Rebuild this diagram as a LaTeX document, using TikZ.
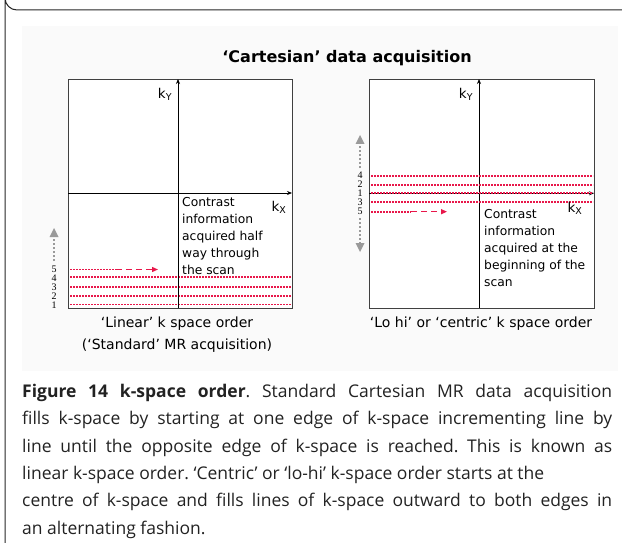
\documentclass[tikz,border=0pt]{standalone}
\usepackage{fontspec}
\setmainfont{DejaVu Sans}
\newfontfamily\capfont{Open Sans}
\newfontfamily\numfont{Liberation Serif}
\usetikzlibrary{arrows.meta}
\definecolor{kred}{HTML}{E8174A}
\definecolor{panel}{HTML}{FAFAFA}
\definecolor{garrow}{HTML}{9A9A9A}
\definecolor{captxt}{HTML}{222222}
\frenchspacing
\begin{document}
\begin{tikzpicture}[x=1pt,y=-1pt,
  axis/.style={draw=black, line width=0.8pt, -{Stealth[length=5pt,width=4pt]}},
  kbox/.style={draw=black!75, line width=0.9pt},
  redline/.style={draw=kred, line width=1.8pt, dash pattern=on 1.6pt off 1.4pt},
  reddash/.style={draw=kred, line width=1.3pt, dash pattern=on 6pt off 4pt, -{Triangle[length=6pt,width=5pt]}},
  grayarrow/.style={draw=garrow, line width=2pt, dash pattern=on 2pt off 2pt},
  grayhead/.style={fill=garrow, draw=none},
  num/.style={font=\numfont\fontsize{10}{10}\selectfont, inner sep=0pt},
  klbl/.style={font=\fontsize{13.5}{15}\selectfont, inner sep=0pt},
  lbl/.style={font=\fontsize{14}{16}\selectfont, inner sep=0pt},
  note/.style={font=\fontsize{12.3}{17}\selectfont, align=left, inner sep=0pt, anchor=north west},
  capline/.style={font=\capfont\fontsize{17.5}{20}\selectfont, text=captxt, inner sep=0pt, anchor=base west}
]
\useasboundingbox (0,0) rectangle (622,543);
% frame
\draw[black!85, line width=1pt] (622,10) -- (17,10) arc[start angle=90, end angle=180, radius=12] -- (5,543);
\fill[panel] (22,26) rectangle (618,371);
% title
\node[font=\bfseries\fontsize{16}{18}\selectfont, inner sep=0pt] (title) at (347,58) {‘Cartesian’ data acquisition};

% ---------- left diagram ----------
\draw[kbox, fill=white] (68,79) rectangle (292,308);
\coordinate (L-yb) at (178,308); \coordinate (L-yt) at (178,79);
\coordinate (L-xl) at (68,193); \coordinate (L-xr) at (292,193);
\foreach \y in {277,287,296,304.5}{
  \draw[redline] (70,\y) -- (291,\y);
}
\draw[axis] (L-yb) -- (L-yt);
\draw[axis] (L-xl) -- (L-xr);
\node[klbl] (L-ky) at (165,94) {k\textsubscript{Y}};
\node[klbl] (L-kx) at (279,207) {k\textsubscript{X}};
\coordinate (L5a) at (70,269.5); \coordinate (L5b) at (116,269.5); \coordinate (L5c) at (158,269.5);
\draw[redline] (L5a) -- (L5b);
\draw[reddash] (L5b) -- (L5c);
\node[note] (L-note) at (182,197) {Contrast\\information\\acquired half\\way through\\the scan};
\foreach \n/\y in {5/269.5,4/278,3/287,2/296,1/305}{
  \node[num] (Ln\n) at (54,\y) {\n};
}
\coordinate (L-ga) at (54,261); \coordinate (L-gb) at (54,236);
\draw[grayarrow] (L-ga) -- (L-gb);
\fill[grayhead] (54,228) -- (58.5,237) -- (49.5,237) -- cycle;
\node[lbl] (L-cap1) at (177,324) {‘Linear’ k space order};
\node[lbl] (L-cap2) at (177,345.5) {(‘Standard’ MR acquisition)};

% ---------- right diagram ----------
\draw[kbox, fill=white] (369,79) rectangle (594,308);
\coordinate (R-yb) at (479,308); \coordinate (R-yt) at (479,79);
\coordinate (R-xl) at (369,193.3); \coordinate (R-xr) at (594,193.3);
\draw[axis] (R-yb) -- (R-yt);
\draw[axis] (R-xl) -- (R-xr);
\foreach \y in {175.7,184.7,193.3,202.3}{
  \draw[redline] (371,\y) -- (593,\y);
}
\node[klbl] (R-ky) at (466,94) {k\textsubscript{Y}};
\node[klbl] (R-kx) at (575,208) {k\textsubscript{X}};
\coordinate (R5a) at (371,211.7); \coordinate (R5b) at (411,211.7); \coordinate (R5c) at (447,211.7);
\draw[redline] (R5a) -- (R5b);
\draw[reddash] (R5b) -- (R5c);
\node[note] (R-note) at (484,209) {Contrast\\information\\acquired at the\\beginning of the\\scan};
\foreach \n/\y in {4/175.5,2/184.5,1/193.3,3/202,5/211}{
  \node[num] (Rn\n) at (360,\y) {\n};
}
\coordinate (R-ga) at (360,168); \coordinate (R-gb) at (360,143);
\coordinate (R-gc) at (360,218); \coordinate (R-gd) at (360,244);
\draw[grayarrow] (R-ga) -- (R-gb);
\draw[grayarrow] (R-gc) -- (R-gd);
\fill[grayhead] (360,135) -- (364.5,144) -- (355.5,144) -- cycle;
\fill[grayhead] (360,252) -- (364.5,243) -- (355.5,243) -- cycle;
\node[lbl] (R-cap1) at (481,324) {‘Lo hi’ or ‘centric’ k space order};

% ---------- caption ----------
\node[capline] (c1) at (22,397.5) {\makebox[590pt][s]{\textbf{Figure 14 k-space order}. Standard Cartesian MR data acquisition}};
\node[capline] (c2) at (22,424.8) {\makebox[590pt][s]{fills k-space by starting at one edge of k-space incrementing line by}};
\node[capline] (c3) at (22,452.1) {\makebox[590pt][s]{line until the opposite edge of k-space is reached. This is known as}};
\node[capline] (c4) at (22,479.4) {linear k-space order. ‘Centric’ or ‘lo-hi’ k-space order starts at the};
\node[capline] (c5) at (22,506.7) {\makebox[590pt][s]{centre of k-space and fills lines of k-space outward to both edges in}};
\node[capline] (c6) at (22,534) {an alternating fashion.};
\end{tikzpicture}
\end{document}
